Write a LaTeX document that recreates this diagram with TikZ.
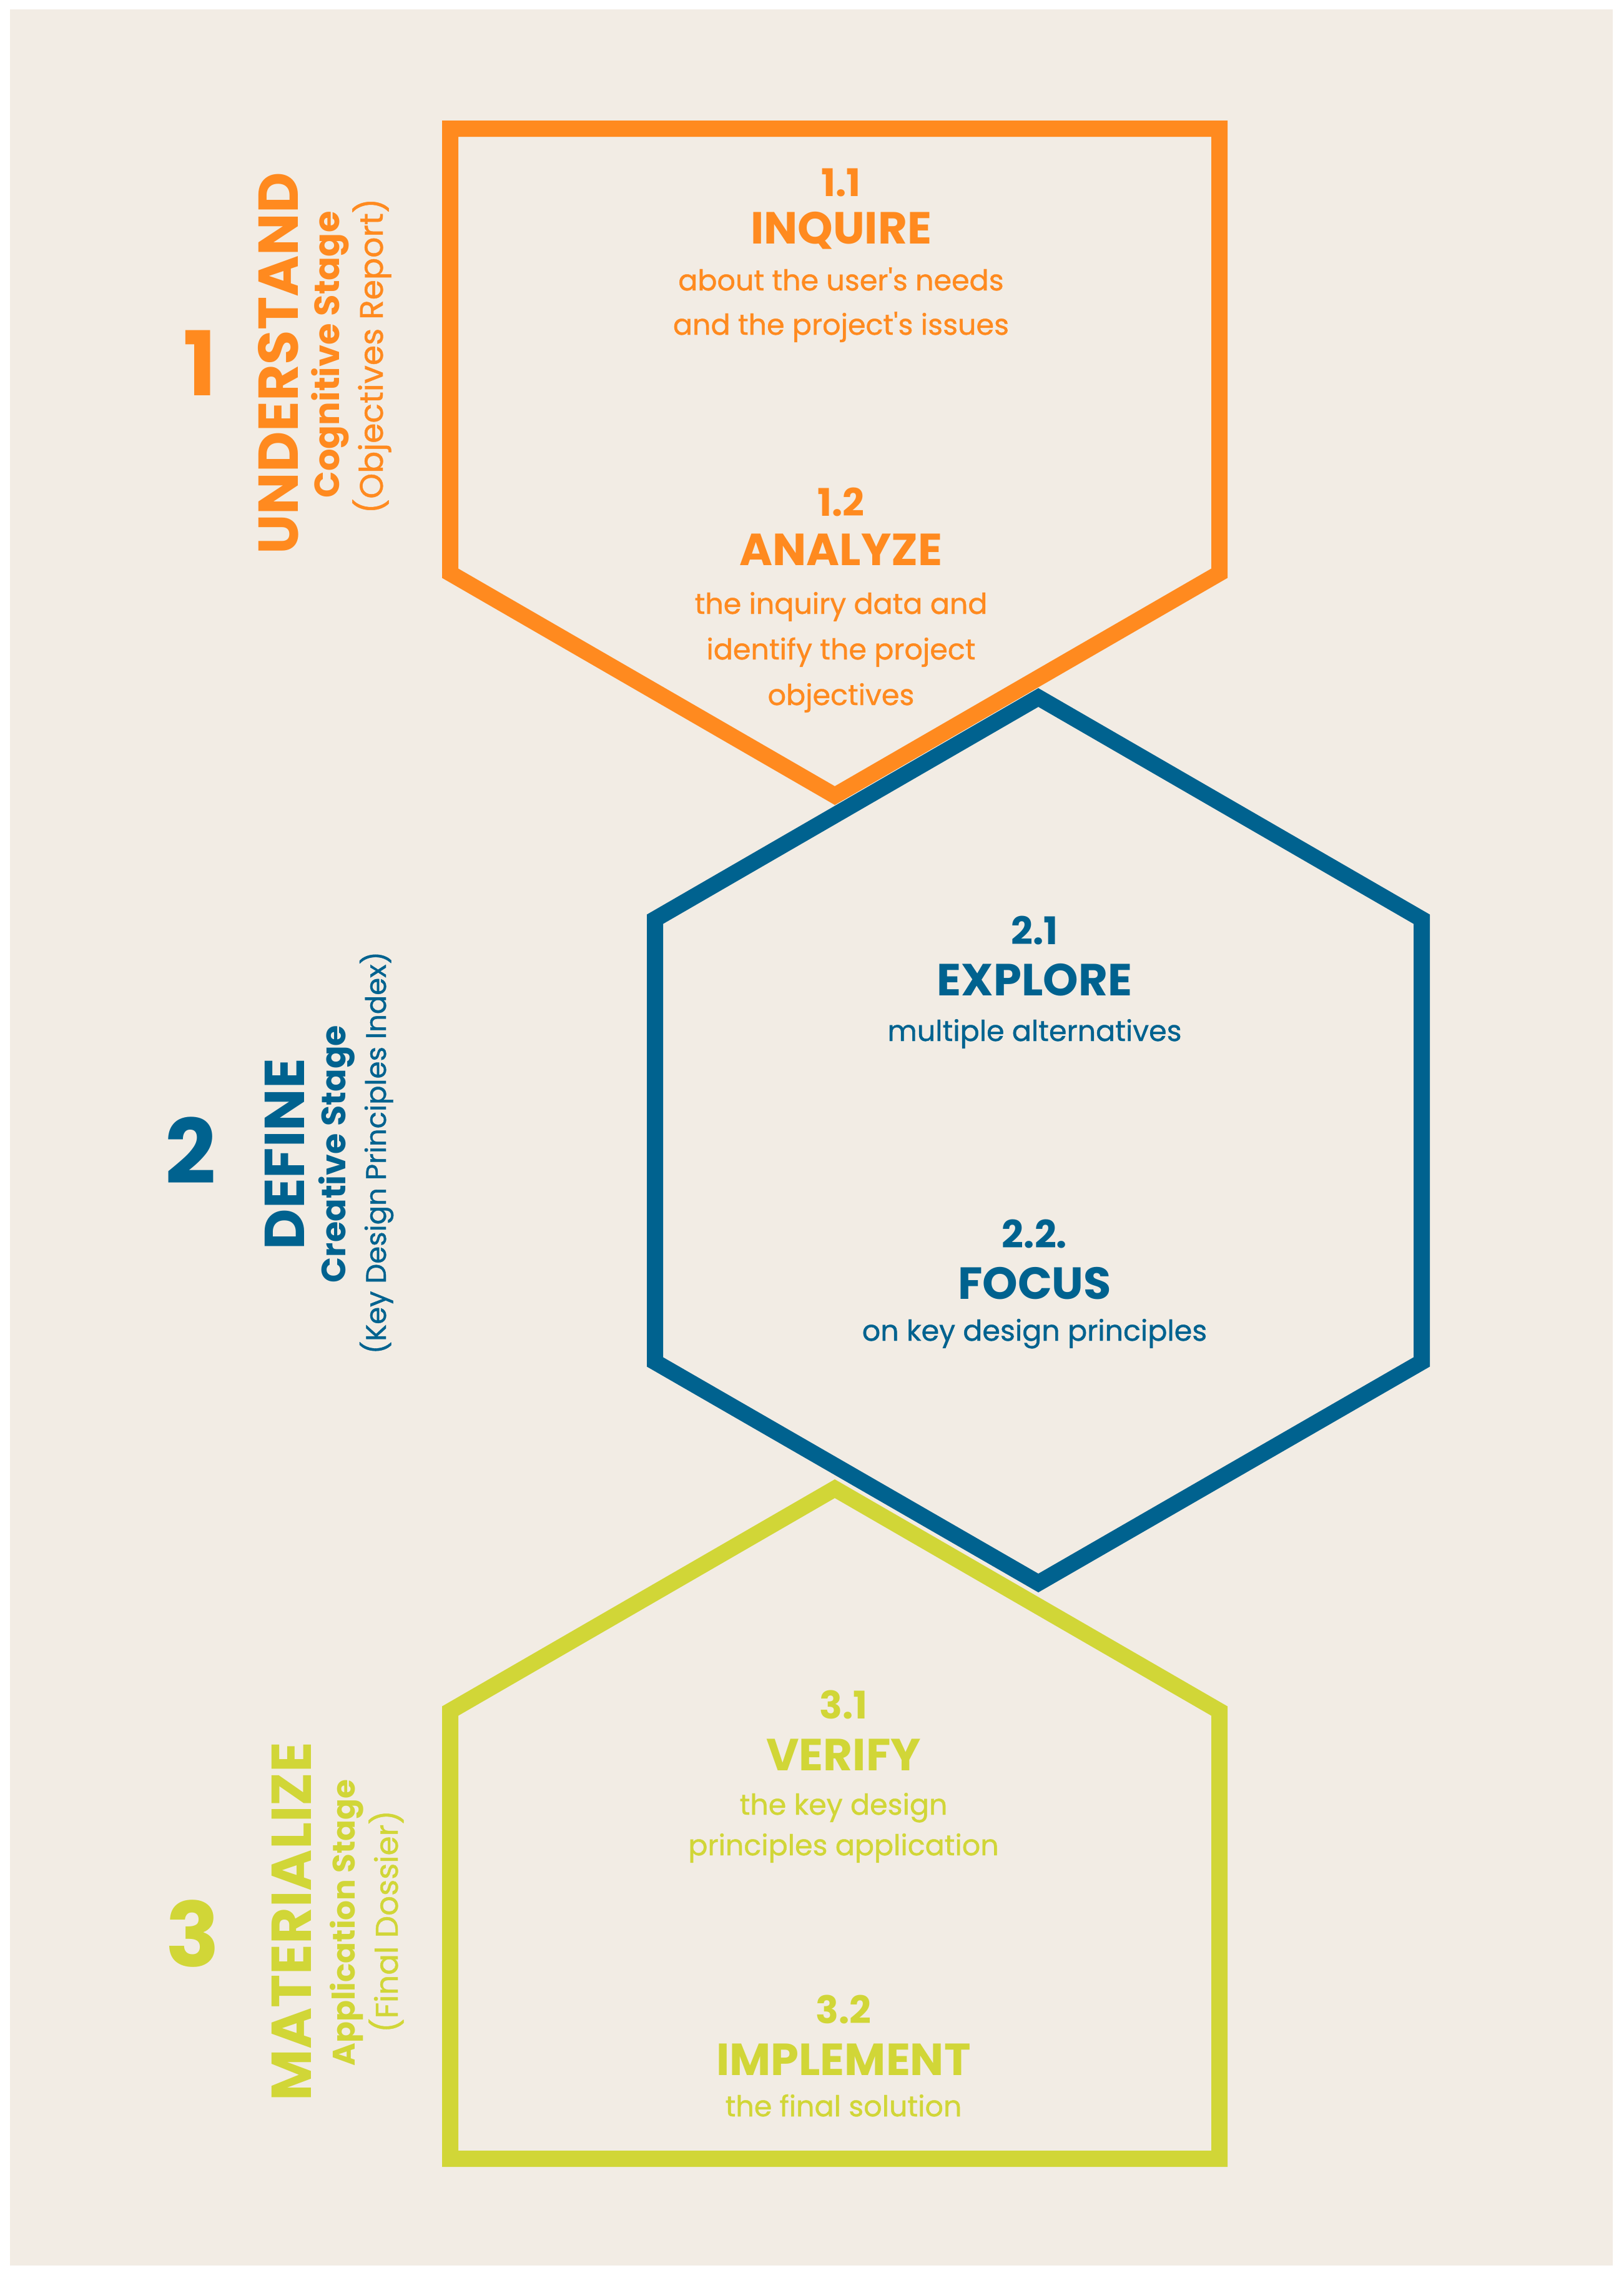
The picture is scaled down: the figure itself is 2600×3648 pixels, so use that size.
\documentclass[tikz,border=0pt]{standalone}
\usepackage{fontspec}
\setmainfont{Poppins}
\newfontfamily\bookfont[FakeBold=0.9]{Poppins}
\definecolor{bg}{HTML}{F2ECE4}
\definecolor{cor}{HTML}{FF8A1F}
\definecolor{cbl}{HTML}{00628F}
\definecolor{cgr}{HTML}{D1D637}
\begin{document}
\begin{tikzpicture}[x=1pt,y=-1pt,
  every node/.style={inner sep=0pt},
  frame/.style={line width=26pt, miter limit=10},
  numtxt/.style={font=\fontsize{61}{61}\selectfont\bfseries, anchor=base},
  headtxt/.style={font=\fontsize{72}{72}\selectfont\bfseries, anchor=base},
  bodytxt/.style={font=\fontsize{46}{46}\bookfont, anchor=base},
  bignum/.style={font=\fontsize{143}{143}\selectfont\bfseries, anchor=base},
  titletxt/.style={font=\fontsize{90}{90}\selectfont\bfseries, rotate=90, anchor=base},
  subtxt/.style={font=\fontsize{#1}{#1}\selectfont\bfseries, rotate=90, anchor=base},
  parentxt/.style={font=\fontsize{#1}{#1}\bookfont, rotate=90, anchor=base}
]
\fill[white] (0,0) rectangle (2600,3648);
\fill[bg] (16,15) rectangle (2583,3628);
\useasboundingbox (0,0) rectangle (2600,3648);

% shapes
\draw[frame, cor] (721,206) -- (1953,206) -- (1953,918) -- (1337,1274) -- (721,918) -- cycle;
\draw[frame, cbl] (1663,1117) -- (2277,1472) -- (2277,2181) -- (1663,2535) -- (1049,2181) -- (1049,1472) -- cycle;
\draw[frame, cgr] (1337,2384) -- (1953,2740) -- (1953,3457) -- (721,3457) -- (721,2740) -- cycle;

% stage 1 texts
\node[numtxt, text=cor] (n11) at (1347,314) {1.1};
\node[headtxt, text=cor] (h11) at (1347,390) {INQUIRE};
\node[bodytxt, text=cor] (b11a) at (1347,465) {about the user's needs};
\node[bodytxt, text=cor] (b11b) at (1347,536) {and the project's issues};
\node[numtxt, text=cor] (n12) at (1347,826) {1.2};
\node[headtxt, text=cor] (h12) at (1347,905) {ANALYZE};
\node[bodytxt, text=cor] (b12a) at (1347,983) {the inquiry data and};
\node[bodytxt, text=cor] (b12b) at (1347,1056) {identify the project};
\node[bodytxt, text=cor] (b12c) at (1347,1129) {objectives};
\node[bignum, text=cor] (big1) at (320,633) {1};
\node[titletxt, text=cor] (t1) at (477,582) {UNDERSTAND};
\node[subtxt=56, text=cor] (s1) at (543,568) {Cognitive Stage};
\node[parentxt=52, text=cor] (p1) at (613,570) {(Objectives Report)};

% stage 2 texts
\node[numtxt, text=cbl] (n21) at (1657,1512) {2.1};
\node[headtxt, text=cbl] (h21) at (1657,1594) {EXPLORE};
\node[bodytxt, text=cbl] (b21) at (1657,1667) {multiple alternatives};
\node[numtxt, text=cbl] (n22) at (1657,1998) {2.2.};
\node[headtxt, text=cbl] (h22) at (1657,2080) {FOCUS};
\node[bodytxt, text=cbl] (b22) at (1657,2147) {on key design principles};
\node[bignum, text=cbl] (big2) at (305,1895) {2};
\node[titletxt, text=cbl] (t2) at (487,1848) {DEFINE};
\node[subtxt=54, text=cbl] (s2) at (553,1848) {Creative Stage};
\node[parentxt=45, text=cbl] (p2) at (618,1846) {(Key Design Principles Index)};

% stage 3 texts
\node[numtxt, text=cgr] (n31) at (1351,2752) {3.1};
\node[headtxt, text=cgr] (h31) at (1351,2835) {VERIFY};
\node[bodytxt, text=cgr] (b31a) at (1351,2906) {the key design};
\node[bodytxt, text=cgr] (b31b) at (1351,2971) {principles application};
\node[numtxt, text=cgr] (n32) at (1351,3240) {3.2};
\node[headtxt, text=cgr] (h32) at (1351,3323) {IMPLEMENT};
\node[bodytxt, text=cgr] (b32) at (1351,3389) {the final solution};
\node[bignum, text=cgr] (big3) at (309,3149) {3};
\node[titletxt, text=cgr] (t3) at (498,3077) {MATERIALIZE};
\node[subtxt=50, text=cgr] (s3) at (568,3079) {Application Stage};
\node[parentxt=50, text=cgr] (p3) at (637,3077) {(Final Dossier)};
\end{tikzpicture}
\end{document}
